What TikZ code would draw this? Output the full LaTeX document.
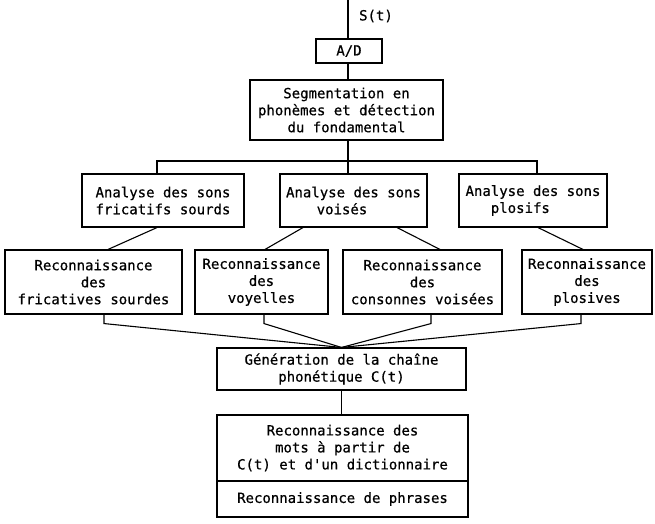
\documentclass[tikz,border=0pt]{standalone}
\usepackage{fontspec}
\newfontfamily\dmono{DejaVu Sans Mono}[FakeBold=0.6]
\begin{document}
\begin{tikzpicture}[x=1pt,y=-1pt,
  txt/.style={font=\dmono\fontsize{14}{17}\selectfont},
  box/.style={txt, draw, line width=1.1pt, inner sep=0pt, align=center},
  lbox/.style={box, align=left},
  conn/.style={line width=1.1pt, line join=miter}]
\useasboundingbox (0,0) rectangle (655,523);
% boxes
\node[box, minimum width=66pt, minimum height=24pt] (ad) at (349,51) {A/D};
\node[box, minimum width=193pt, minimum height=60pt] (seg) at (346.5,110) {Segmentation en\\phonèmes et détection\\du fondamental};
\node[lbox, minimum width=162pt, minimum height=53pt] (aL) at (163,200.5) {Analyse des sons\\fricatifs sourds};
\node[lbox, minimum width=147pt, minimum height=53pt] (aM) at (353.5,200.5) {Analyse des sons\\\hspace*{4ex}voisés};
\node[lbox, minimum width=148pt, minimum height=53pt] (aR) at (533,200.5) {Analyse des sons\\~~~plosifs};
\node[box, minimum width=177pt, minimum height=64pt] (rf) at (93.5,282) {Reconnaissance\\des\\fricatives sourdes};
\node[box, minimum width=133pt, minimum height=64pt] (rv) at (261.5,282) {Reconnaissance\\des\\voyelles};
\node[box, minimum width=159pt, minimum height=64pt] (rc) at (422.5,282) {Reconnaissance\\des\\consonnes voisées};
\node[box, minimum width=130pt, minimum height=64pt] (rp) at (587,282) {Reconnaissance\\des\\plosives};
\node[box, minimum width=249pt, minimum height=42pt] (gen) at (341.5,369) {Génération de la chaîne\\phonétique C(t)};
\node[box, minimum width=251pt, minimum height=66pt] (mots) at (342.5,448) {Reconnaissance des\\mots à partir de\\C(t) et d'un dictionnaire};
\node[box, minimum width=251pt, minimum height=36pt] (phr) at (342.5,499) {Reconnaissance de phrases};
\node[txt, inner sep=0pt] (st) at (376,16) {S(t)};
% top chain
\coordinate (top) at (348,0);
\draw[conn] (top) -- (top |- ad.north);
\draw[conn] (top |- ad.south) -- (top |- seg.north);
\draw[conn] (top |- seg.south) -- (top |- aM.north);
\coordinate (busL) at (157,161);
\coordinate (busR) at (537,161);
\draw[conn] (busL |- aL.north) -- (busL) -- (busR) -- (busR |- aR.north);
% analysis -> recognition
\draw[conn] ([xshift=-6pt]aL.south) -- ([xshift=14.5pt]rf.north);
\draw[conn] ([xshift=-50.5pt]aM.south) -- ([xshift=3.5pt]rv.north);
\draw[conn] ([xshift=43.5pt]aM.south) -- ([xshift=17.5pt]rc.north);
\draw[conn] ([xshift=5pt]aR.south) -- ([xshift=-4pt]rp.north);
% recognition -> generation
\draw[conn] ([xshift=10.5pt]rf.south) -- ++(0,9) -- (gen.north);
\draw[conn] ([xshift=2.5pt]rv.south) -- ++(0,9) -- (gen.north);
\draw[conn] ([xshift=8.5pt]rc.south) -- ++(0,9) -- (gen.north);
\draw[conn] ([xshift=-6pt]rp.south) -- ++(0,9) -- (gen.north);
% generation -> mots
\draw[conn] (gen.south) -- (gen.south |- mots.north);
\end{tikzpicture}
\end{document}
